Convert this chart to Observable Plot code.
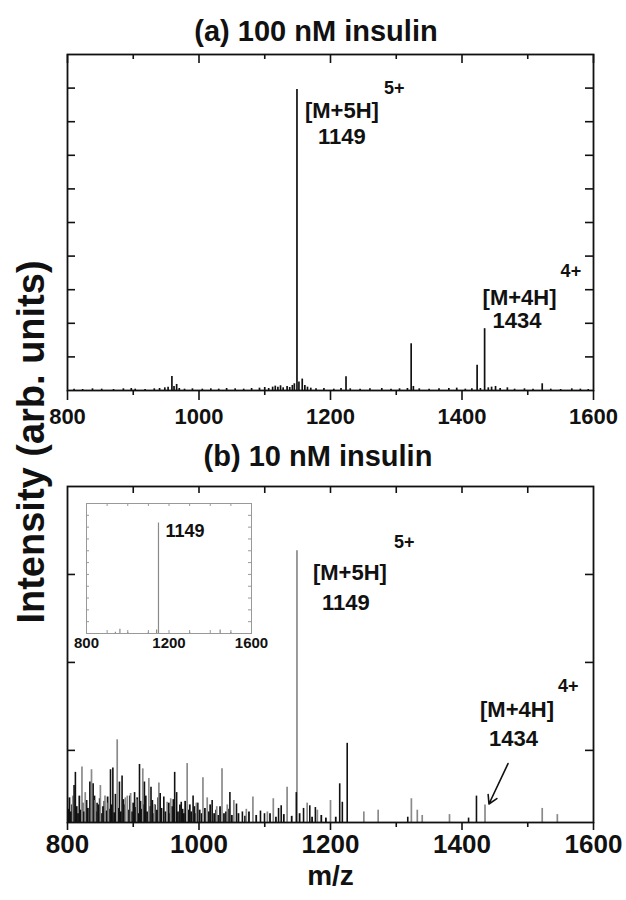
<!DOCTYPE html>
<html><head><meta charset="utf-8">
<script src="https://cdn.jsdelivr.net/npm/d3@7"></script>
<script src="https://cdn.jsdelivr.net/npm/@observablehq/plot@0.6"></script>
<style>
body{margin:0;background:#fff;font-family:"Liberation Sans",Arial,sans-serif;}
#wrap{position:relative;width:626px;height:900px;overflow:hidden;}
.abs{position:absolute;}
.title{position:absolute;font-weight:bold;font-size:29px;line-height:29px;white-space:nowrap;transform:translateX(-50%);color:#111;}
.ylab{position:absolute;font-weight:bold;font-size:38px;line-height:38px;white-space:nowrap;transform:translate(-50%,-50%) rotate(-90deg);color:#111;}
</style></head><body><div id="wrap"></div>
<script>
// ---- tick labels ----
const xTicksMajor = [800, 1000, 1200, 1400, 1600];
const xTicksMinor = [900, 1100, 1300, 1500];
const insetTicks = [800, 1200, 1600];
const aYTicks = [1, 2, 3, 4, 5, 6, 7, 8, 9];
const bYTicks = [0.82, 1.82, 2.82];

// ---- panel (a) 100 nM ----
const aMz = [810,823,838,852,870,885,897,903,918,932, 940,948,953,958.8,962,966,970,978,990,1005,
  1018,1030,1042,1055,1068,1080,1092,1100,1106,1112, 1116,1120,1124,1128,1134,1138,1142,1145,1149,1152,
  1157,1161,1165,1170,1178,1190,1205,1216,1223.6,1230, 1245,1260,1278,1292,1305,1317,1322.7,1326,1335,1350,
  1365,1380,1392,1405,1415,1423,1428,1434.4,1440,1445, 1451,1458,1469,1480,1495,1508,1522,1535,1550,1567,
  1580,1592];
const aInt = [0.04,0.03,0.05,0.04,0.03,0.05,0.06,0.04,0.03,0.05, 0.06,0.08,0.1,0.42,0.12,0.18,0.06,0.04,0.05,0.04,
  0.05,0.04,0.06,0.05,0.04,0.06,0.07,0.09,0.06,0.1, 0.13,0.1,0.14,0.08,0.12,0.09,0.15,0.2,8.96,0.25,
  0.34,0.15,0.1,0.07,0.05,0.06,0.04,0.06,0.41,0.05, 0.04,0.05,0.06,0.04,0.05,0.06,1.39,0.12,0.05,0.04,
  0.05,0.06,0.07,0.04,0.05,0.75,0.06,1.84,0.08,0.1, 0.12,0.06,0.08,0.04,0.05,0.04,0.2,0.04,0.03,0.05,
  0.04,0.03];

// ---- panel (b) 10 nM ----
const bGrayMz = [808,822,827,836.5,842,850,857,862,875.6,888, 891,896,905,914.5,923.7,932,939,951.6,957,982,
  996,1006,1012.5,1027,1035,1043,1053,1072,1082,1104, 1113,1134,1149,1164.5,1180,1200,1250.7,1272.5,1323,1332,
  1339.5,1381,1435,1522,1545];
const bGrayInt = [0.3,0.63,0.34,0.6,0.25,0.42,0.3,0.22,0.94,0.28, 0.3,0.33,0.26,0.61,0.5,0.2,0.45,0.23,0.27,0.67,
  0.22,0.51,0.28,0.18,0.61,0.2,0.25,0.15,0.29,0.12, 0.27,0.4,3.09,0.22,0.14,0.25,0.12,0.14,0.27,0.14,
  0.08,0.09,0.2,0.16,0.09];
const bBlackMz = [810,812,834,839,845,865.4,869,879,883,902, 909.5,917,927,941,946.5,963,966,973,991,1020,
  1047,1057,1066,1093.5,1099.6,1121,1125,1148,1159,1168.5, 1177,1214,1218,1225.4,1317.5,1410,1422];
const bBlackInt = [0.42,0.57,0.46,0.44,0.22,0.6,0.62,0.46,0.53,0.34, 0.66,0.46,0.4,0.33,0.29,0.57,0.34,0.23,0.3,0.25,
  0.34,0.21,0.12,0.13,0.1,0.16,0.19,0.34,0.16,0.19, 0.17,0.44,0.23,0.9,0.06,0.05,0.3];
const bBaseMz = [801,803,805,807,814,816,818,820,823,825, 829,831,841,843,847,849,852,854,856,859,
  861,863,867,871,873,877,881,885,887,893, 895,898,900,904,906,908,911,913,916,919,
  921,925,929,931,933,936,938,943,949,954, 956,959,961,968,971,975,977,979,984,986,
  988,993,995,998,1001,1004,1009,1015,1017,1023, 1026,1029,1032,1038,1041,1044,1050,1060,1070,1076,
  1087,1108,1117,1129,1141,1153,1172,1186,1193,1208];
const bBaseInt = [0.15,0.28,0.12,0.2,0.18,0.1,0.3,0.14,0.22,0.12, 0.25,0.16,0.3,0.12,0.2,0.27,0.1,0.18,0.24,0.13,
  0.29,0.15,0.2,0.11,0.32,0.16,0.12,0.26,0.2,0.14, 0.3,0.12,0.22,0.17,0.28,0.1,0.24,0.15,0.2,0.3,
  0.12,0.18,0.25,0.1,0.2,0.14,0.28,0.16,0.12,0.22, 0.1,0.18,0.26,0.12,0.2,0.15,0.1,0.24,0.14,0.2,
  0.12,0.18,0.1,0.22,0.14,0.1,0.16,0.12,0.2,0.1, 0.14,0.08,0.18,0.1,0.12,0.15,0.08,0.1,0.07,0.12,
  0.08,0.1,0.06,0.09,0.07,0.1,0.06,0.08,0.05,0.06];

// ---- inset ----
const insetMz = [940, 962, 1000, 1100, 1140, 1149, 1300, 1448, 1500];
const insetInt = [0.1, 0.35, 0.08, 0.1, 0.3, 9.35, 0.08, 0.3, 0.08];

// ---- annotations ----
const aPeak5 = {mz: 1149, v: 8.96};
const aPeak4 = {mz: 1434.4, v: 1.84};
const bPeak5 = {mz: 1149, v: 3.09};
const bPeak4 = {mz: 1435, v: 0.2};
const bArrow = {x1: 1470, y1: 0.67, x2: 1441, y2: 0.21};

const FONT = '"Liberation Sans", Arial, sans-serif';
const fmt = d3.format("d");
const zip = (m, v) => m.map((x, i) => ({mz: x, v: v[i]}));

function label(peak, txt, dx, dy, size) {
  return Plot.text([peak], {x: "mz", y: "v", text: () => txt, dx, dy, textAnchor: "start",
    lineAnchor: "middle", fontSize: size, fontWeight: "bold", fill: "#111"});
}

function edgeTicks(innerW, innerH, xMaj, xMin, yT, opt) {
  const s = {stroke: "#111", strokeWidth: 1.6};
  const m = [];
  m.push(Plot.ruleX(xMaj, {x: d => d, insetBottom: innerH - opt.topMaj, ...s}));
  m.push(Plot.ruleX(xMin, {x: d => d, insetBottom: innerH - opt.topMin, ...s}));
  m.push(Plot.ruleY(yT, {y: d => d, insetRight: innerW - opt.side, ...s}));
  m.push(Plot.ruleY(yT, {y: d => d, insetLeft: innerW - opt.side, ...s}));
  return m;
}

const wrap = document.getElementById("wrap");
function place(el, left, top) { el.classList.add("abs"); el.style.left = left + "px"; el.style.top = top + "px"; wrap.appendChild(el); }

// ---------- Panel (a) ----------
const aW = 626, aH = 380, aML = 67, aMR = 33, aMT = 4, aMB = 40;
const aInnerW = aW - aML - aMR, aInnerH = aH - aMT - aMB;
const plotA = Plot.plot({
  width: aW, height: aH, marginLeft: aML, marginRight: aMR, marginTop: aMT, marginBottom: aMB,
  style: {fontFamily: FONT, background: "transparent", overflow: "visible", color: "#111"},
  x: {domain: [800, 1600]},
  y: {domain: [0, 10], axis: null},
  marks: [
    Plot.ruleX(zip(aMz, aInt), {x: "mz", y1: 0, y2: "v", stroke: "#111", strokeWidth: 1.7}),
    Plot.frame({stroke: "#111", strokeWidth: 1.8}),
    Plot.axisX({ticks: xTicksMajor, tickSize: 10, tickPadding: 8, tickFormat: fmt, fontSize: 22, fontWeight: "bold", label: null, strokeWidth: 1.6}),
    Plot.axisX({ticks: xTicksMinor, tickSize: 5, tickFormat: () => "", label: null, strokeWidth: 1.6}),
    ...edgeTicks(aInnerW, aInnerH, xTicksMajor, xTicksMinor, aYTicks, {topMaj: 9, topMin: 5, side: 8}),
    label(aPeak5, "[M+5H]", 8, 22, 22),
    label(aPeak5, "1149", 21, 48, 22),
    label(aPeak5, "5+", 87, -1, 18),
    label(aPeak4, "[M+4H]", -2, -31, 22),
    label(aPeak4, "1434", 8, -8, 22),
    label(aPeak4, "4+", 76, -57, 18)
  ]
});
place(plotA, 0, 50);

// ---------- Panel (b) ----------
const bW = 626, bH = 420, bML = 67, bMR = 33, bMT = 6, bMB = 78;
const bInnerW = bW - bML - bMR, bInnerH = bH - bMT - bMB;
const plotB = Plot.plot({
  width: bW, height: bH, marginLeft: bML, marginRight: bMR, marginTop: bMT, marginBottom: bMB,
  style: {fontFamily: FONT, background: "transparent", overflow: "visible", color: "#111"},
  x: {domain: [800, 1600]},
  y: {domain: [0, 3.82], axis: null},
  marks: [
    Plot.ruleX(zip(bBaseMz, bBaseInt), {x: "mz", y1: 0, y2: "v", stroke: "#111", strokeWidth: 1.8}),
    Plot.ruleX(zip(bGrayMz, bGrayInt), {x: "mz", y1: 0, y2: "v", stroke: "#8a8a8a", strokeWidth: 1.7}),
    Plot.ruleX(zip(bBlackMz, bBlackInt), {x: "mz", y1: 0, y2: "v", stroke: "#111", strokeWidth: 1.6}),
    Plot.frame({stroke: "#111", strokeWidth: 1.8}),
    Plot.axisX({ticks: xTicksMajor, tickSize: 8, tickPadding: 4, tickFormat: fmt, fontSize: 26, fontWeight: "bold", label: null, strokeWidth: 1.6}),
    Plot.axisX({ticks: xTicksMinor, tickSize: 5, tickFormat: () => "", label: null, strokeWidth: 1.6}),
    ...edgeTicks(bInnerW, bInnerH, xTicksMajor.slice(1, -1), xTicksMinor, bYTicks, {topMaj: 7, topMin: 7, side: 8}),
    Plot.text(["m/z"], {frameAnchor: "bottom", dy: 62, fontSize: 28, fontWeight: "bold", fill: "#111"}),
    Plot.arrow([bArrow], {x1: "x1", y1: "y1", x2: "x2", y2: "y2", stroke: "#111", strokeWidth: 1.6, headLength: 9}),
    label(bPeak5, "[M+5H]", 16, 22, 22),
    label(bPeak5, "1149", 25, 52, 22),
    label(bPeak5, "5+", 97, -8, 18),
    label(bPeak4, "[M+4H]", -5, -95, 22),
    label(bPeak4, "1434", 4, -66, 22),
    label(bPeak4, "4+", 73, -119, 18)
  ]
});
place(plotB, 0, 480);

// ---------- Inset ----------
const iW = 210, iH = 160, iML = 26, iMR = 19, iMT = 8, iMB = 22;
const iInnerW = iW - iML - iMR, iInnerH = iH - iMT - iMB;
const thin = {stroke: "#999", strokeWidth: 1};
const iYT = [1, 2, 3, 4, 5, 6, 7, 8, 9, 10];
const iXT = [900, 1000, 1100, 1200, 1300, 1400, 1500];
const plotI = Plot.plot({
  width: iW, height: iH, marginLeft: iML, marginRight: iMR, marginTop: iMT, marginBottom: iMB,
  style: {fontFamily: FONT, background: "transparent", overflow: "visible", color: "#111"},
  x: {domain: [800, 1600]},
  y: {domain: [0, 11], axis: null},
  marks: [
    Plot.ruleX(zip(insetMz, insetInt), {x: "mz", y1: 0, y2: "v", stroke: "#8a8a8a", strokeWidth: 1.2}),
    Plot.frame(thin),
    Plot.ruleX(iXT, {x: d => d, insetBottom: iInnerH - 3, ...thin}),
    Plot.ruleX(iXT, {x: d => d, insetTop: iInnerH - 3, ...thin}),
    Plot.ruleY(iYT, {y: d => d, insetRight: iInnerW - 3, ...thin}),
    Plot.ruleY(iYT, {y: d => d, insetLeft: iInnerW - 3, ...thin}),
    Plot.axisX({ticks: insetTicks, tickSize: 0, tickPadding: 4, tickFormat: fmt, fontSize: 15, fontWeight: "bold", label: null}),
    label({mz: 1149, v: 9.35}, "1149", 7, 8, 18)
  ]
});
place(plotI, 60, 495);

// ---------- Titles ----------
const tA = document.createElement("div"); tA.className = "title"; tA.textContent = "(a) 100 nM insulin";
tA.style.left = "316px"; tA.style.top = "17px"; wrap.appendChild(tA);
const tB = document.createElement("div"); tB.className = "title"; tB.textContent = "(b) 10 nM insulin";
tB.style.left = "318px"; tB.style.top = "442px"; wrap.appendChild(tB);
const yl = document.createElement("div"); yl.className = "ylab"; yl.textContent = "Intensity (arb. units)";
yl.style.left = "31px"; yl.style.top = "442px"; wrap.appendChild(yl);
</script>
</body></html>
